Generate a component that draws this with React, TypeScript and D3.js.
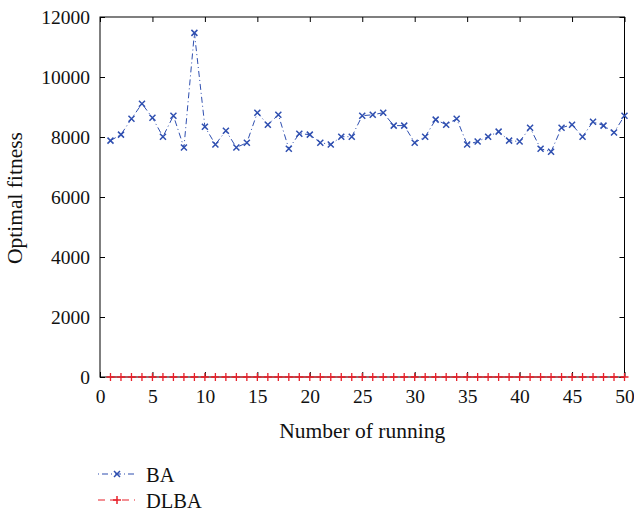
import React, { useRef, useEffect } from "react";
import * as d3 from "d3";

// runs 1..50
const runs = [
  1, 2, 3, 4, 5, 6, 7, 8, 9, 10, 11, 12, 13, 14, 15, 16, 17, 18, 19, 20, 21, 22, 23, 24, 25,
  26, 27, 28, 29, 30, 31, 32, 33, 34, 35, 36, 37, 38, 39, 40, 41, 42, 43, 44, 45, 46, 47, 48, 49, 50
];

const baValues = [
  7880, 8080, 8610, 9110, 8640, 8010, 8710, 7650, 11470, 8340,
  7750, 8210, 7650, 7810, 8810, 8410, 8740, 7610, 8110, 8080,
  7810, 7750, 8010, 8010, 8710, 8740, 8810, 8380, 8380, 7810,
  8010, 8580, 8410, 8610, 7750, 7850, 8010, 8180, 7880, 7850,
  8310, 7610, 7510, 8310, 8410, 8010, 8510, 8380, 8150, 8710
];

const dlbaValues = [
  0, 0, 0, 0, 0, 0, 0, 0, 0, 0, 0, 0, 0, 0, 0, 0, 0, 0, 0, 0, 0, 0, 0, 0, 0,
  0, 0, 0, 0, 0, 0, 0, 0, 0, 0, 0, 0, 0, 0, 0, 0, 0, 0, 0, 0, 0, 0, 0, 0, 0
];

const xTicks = [0, 5, 10, 15, 20, 25, 30, 35, 40, 45, 50];
const yTicks = [0, 2000, 4000, 6000, 8000, 10000, 12000];

const BLUE = "#2f4fb0";
const RED = "#e8202a";
const FONT = "Liberation Serif, Times New Roman, Times, serif";

const App = () => {
  const svgRef = useRef<SVGSVGElement>(null);

  useEffect(() => {
    const svg = d3.select(svgRef.current);
    svg.selectAll("*").remove();

    const left = 100;
    const right = 624.5;
    const top = 17;
    const bottom = 377;

    const x = d3.scaleLinear().domain([0, 50]).range([left, right]);
    const y = d3.scaleLinear().domain([0, 12000]).range([bottom, top]);
    const fmt = d3.format("d");

    // box
    svg
      .append("rect")
      .attr("x", left)
      .attr("y", top)
      .attr("width", right - left)
      .attr("height", bottom - top)
      .attr("fill", "none")
      .attr("stroke", "#000")
      .attr("stroke-width", 1);

    // x axis (ticks inside) + mirrored top ticks
    const xAxis = d3.axisBottom(x).tickValues(xTicks).tickFormat(fmt).tickSizeInner(-5).tickSizeOuter(0).tickPadding(12);
    const gx = svg.append("g").attr("transform", `translate(0,${bottom})`).call(xAxis);
    gx.select(".domain").remove();
    gx.selectAll("text").style("font-family", FONT).style("font-size", "19.5px").attr("fill", "#111");

    const gxTop = svg
      .append("g")
      .attr("transform", `translate(0,${top})`)
      .call(d3.axisTop(x).tickValues(xTicks).tickSizeInner(-5).tickSizeOuter(0).tickFormat(() => ""));
    gxTop.select(".domain").remove();

    const yAxis = d3.axisLeft(y).tickValues(yTicks).tickFormat(fmt).tickSizeInner(-5).tickSizeOuter(0).tickPadding(10);
    const gy = svg.append("g").attr("transform", `translate(${left},0)`).call(yAxis);
    gy.select(".domain").remove();
    gy.selectAll("text").style("font-family", FONT).style("font-size", "19.5px").attr("fill", "#111");

    const gyRight = svg
      .append("g")
      .attr("transform", `translate(${right},0)`)
      .call(d3.axisRight(y).tickValues(yTicks).tickSizeInner(-5).tickSizeOuter(0).tickFormat(() => ""));
    gyRight.select(".domain").remove();

    // axis titles
    svg
      .append("text")
      .attr("x", (left + right) / 2)
      .attr("y", 438)
      .attr("text-anchor", "middle")
      .style("font-family", FONT)
      .style("font-size", "21.5px")
      .attr("fill", "#111")
      .text("Number of running");

    svg
      .append("text")
      .attr("transform", `translate(22,${(top + bottom) / 2 + 1}) rotate(-90)`)
      .attr("text-anchor", "middle")
      .style("font-family", FONT)
      .style("font-size", "21.5px")
      .attr("fill", "#111")
      .text("Optimal fitness");

    const baData = runs.map((r, i) => ({ r, v: baValues[i] }));
    const dlbaData = runs.map((r, i) => ({ r, v: dlbaValues[i] }));

    const myLine = d3
      .line<{ r: number; v: number }>()
      .x(d => x(d.r))
      .y(d => y(d.v));

    // DLBA: red dashed with +
    svg
      .append("path")
      .attr("d", myLine(dlbaData))
      .attr("fill", "none")
      .attr("stroke", RED)
      .attr("stroke-width", 1.2)
      .attr("stroke-dasharray", "6,4");
    svg
      .append("g")
      .selectAll("path")
      .data(dlbaData)
      .join("path")
      .attr("d", d => `M${x(d.r) - 4},${y(d.v)}H${x(d.r) + 4}M${x(d.r)},${y(d.v) - 4}V${y(d.v) + 4}`)
      .attr("stroke", RED)
      .attr("stroke-width", 1.3);

    // BA: blue dash-dot with x
    svg
      .append("path")
      .attr("d", myLine(baData))
      .attr("fill", "none")
      .attr("stroke", BLUE)
      .attr("stroke-width", 1)
      .attr("stroke-dasharray", "6,3,1,3");
    svg
      .append("g")
      .selectAll("path")
      .data(baData)
      .join("path")
      .attr("d", d => {
        const cx = x(d.r);
        const cy = y(d.v);
        return `M${cx - 3},${cy - 3}L${cx + 3},${cy + 3}M${cx - 3},${cy + 3}L${cx + 3},${cy - 3}`;
      })
      .attr("stroke", BLUE)
      .attr("stroke-width", 1.5);

    // legend
    const legend = [
      { name: "BA", color: BLUE, dash: "1,3,6,3", marker: "x", y: 474 },
      { name: "DLBA", color: RED, dash: "7,5", marker: "+", y: 500 }
    ];
    legend.forEach(l => {
      svg
        .append("line")
        .attr("x1", 98)
        .attr("x2", 135)
        .attr("y1", l.y)
        .attr("y2", l.y)
        .attr("stroke", l.color)
        .attr("stroke-width", 1.2)
        .attr("stroke-dasharray", l.dash);
      const cx = 117;
      const m =
        l.marker === "x"
          ? `M${cx - 3},${l.y - 3}L${cx + 3},${l.y + 3}M${cx - 3},${l.y + 3}L${cx + 3},${l.y - 3}`
          : `M${cx - 4},${l.y}H${cx + 4}M${cx},${l.y - 4}V${l.y + 4}`;
      svg.append("path").attr("d", m).attr("stroke", l.color).attr("stroke-width", 1.5);
      svg
        .append("text")
        .attr("x", 146)
        .attr("y", l.y + 8)
        .style("font-family", FONT)
        .style("font-size", "20.5px")
        .attr("fill", "#111")
        .text(l.name);
    });
  }, []);

  return (
    <svg
      ref={svgRef}
      width={634}
      height={515}
      style={{ position: "absolute", left: 0, top: 0, background: "#fff" }}
    />
  );
};

export default App;
